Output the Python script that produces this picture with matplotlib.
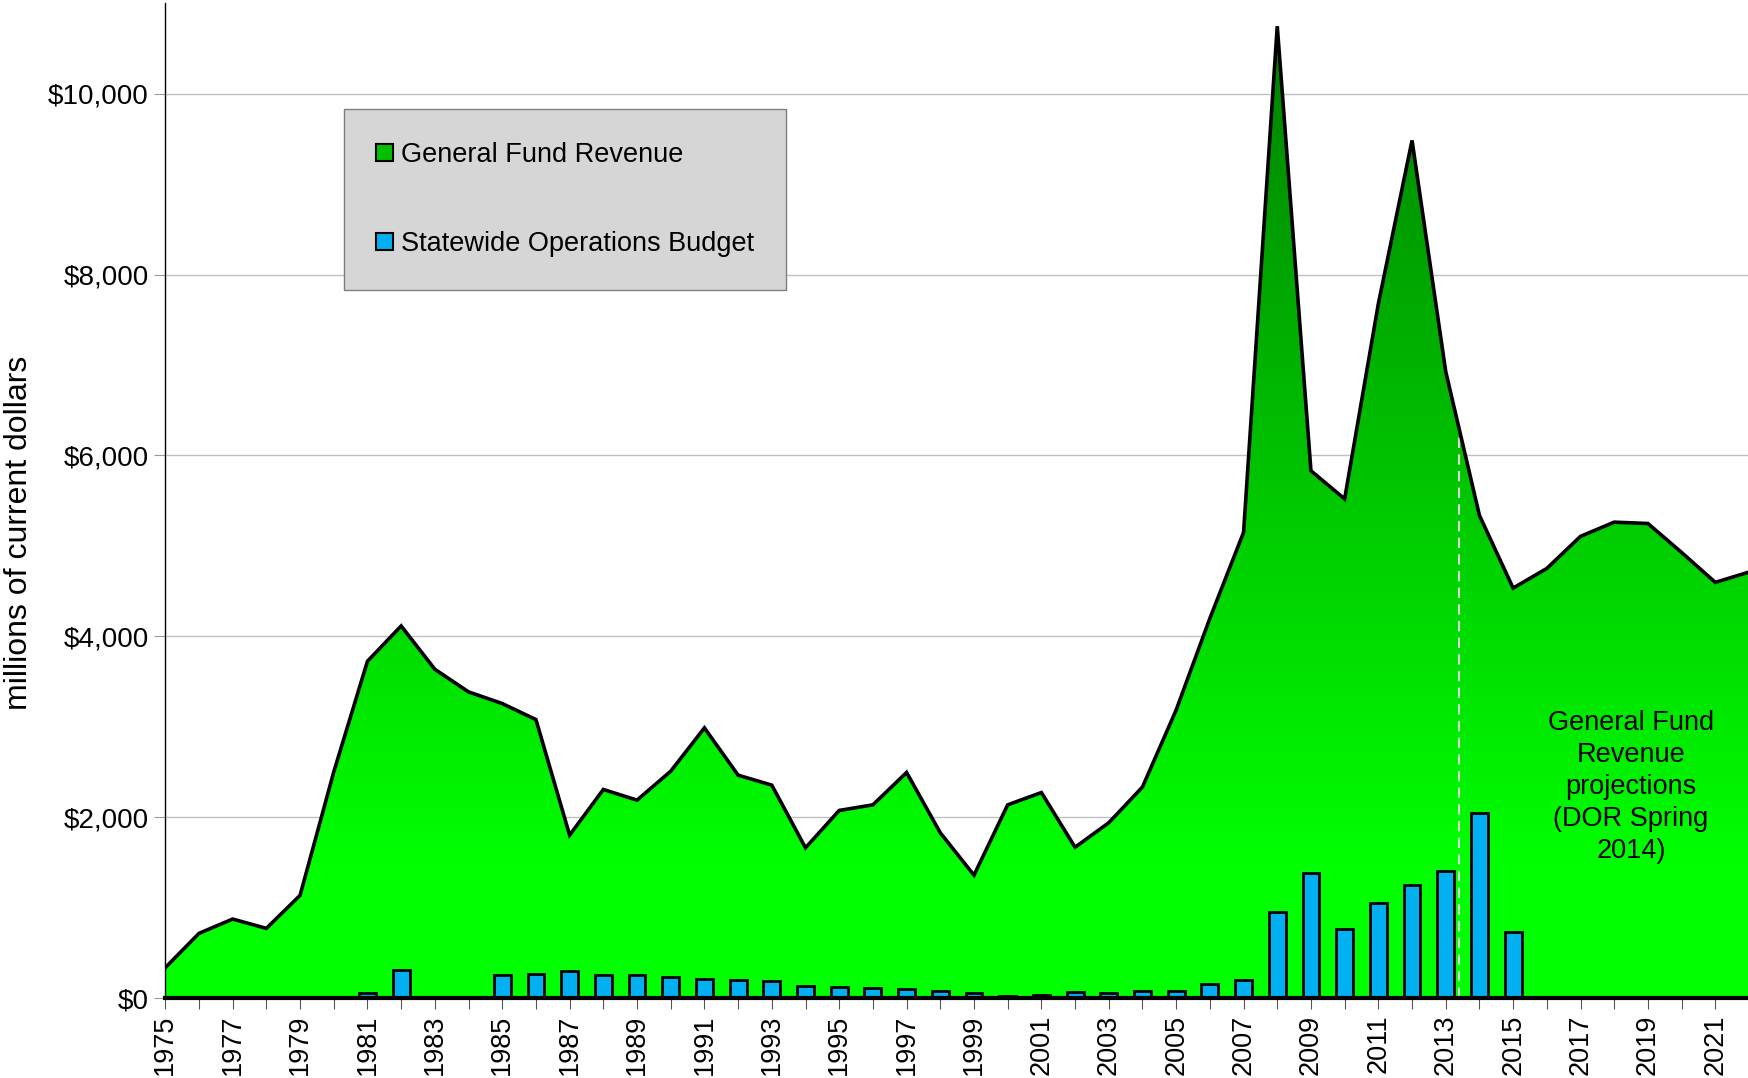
import numpy as np
import matplotlib.pyplot as plt
import matplotlib.patches as mpatches
from matplotlib.ticker import FuncFormatter

plt.rcParams['font.family'] = ['Liberation Sans', 'DejaVu Sans']

years = list(range(1975, 2023))
revenue = [335, 715, 873, 770, 1135, 2500, 3724, 4114, 3635, 3385,
           3256, 3079, 1801, 2306, 2188, 2508, 2987, 2464, 2354, 1661,
           2074, 2136, 2494, 1827, 1358, 2136, 2272, 1667, 1938, 2333,
           3185, 4198, 5148, 10746, 5830, 5519, 7677, 9483, 6927, 5337,
           4533, 4750, 5105, 5262, 5247, 4927, 4596, 4710]

budget_years = [1981, 1982, 1985, 1986, 1987, 1988, 1989, 1990, 1991, 1992,
                1993, 1994, 1995, 1996, 1997, 1998, 1999, 2000, 2001, 2002,
                2003, 2004, 2005, 2006, 2007, 2008, 2009, 2010, 2011, 2012,
                2013, 2014, 2015]
budget = [56, 308, 258, 262, 294, 249, 249, 230, 215, 204,
          193, 137, 126, 111, 97, 75, 50, 22, 36, 65,
          57, 75, 75, 158, 194, 951, 1383, 765, 1049, 1252,
          1402, 2042, 733]

projection_start = 2013.4
note = "General Fund\nRevenue\nprojections\n(DOR Spring\n2014)"

fig = plt.figure(figsize=(17.49, 10.78), dpi=100)
ax = fig.add_axes([0.0945, 0.0742, 0.9055, 0.9228])
xmin, xmax, ymax = 1975, 2022, 11000

# vertical gradient fill, bright green at bottom to dark green at top
yy = np.linspace(0, ymax, 400)
t = np.clip((yy - 1500) / 9250, 0, 1)
g = 1.0 - t * (127 / 255)
rgb = np.zeros((len(yy), 2, 3))
rgb[:, :, 1] = g[:, None]
im = ax.imshow(rgb, extent=[xmin, xmax, 0, ymax], origin='lower',
               aspect='auto', zorder=1)
poly = ax.fill_between(years, revenue, 0, color='none', lw=0)
im.set_clip_path(poly.get_paths()[0], transform=ax.transData)
ax.plot(years, revenue, color='black', lw=2.6, zorder=4, solid_joinstyle='miter')

ax.bar(budget_years, budget, width=0.5, color='#00B0F0', edgecolor='black',
       lw=2, zorder=3)

# projection marker
yv = np.interp(projection_start, years, revenue)
ax.plot([projection_start, projection_start], [0, yv], color='#D8D8D8',
        lw=1.5, ls=(0, (5, 3)), zorder=3.5)

ax.text(2018.5, 2330, note, ha='center', va='center', fontsize=19.5,
        linespacing=1.3, zorder=5)

ax.set_xlim(xmin, xmax)
ax.set_ylim(0, ymax)
ax.set_xticks(range(1975, 2023))
ax.set_xticklabels([str(y) if y % 2 == 1 else '' for y in range(1975, 2023)])
ax.set_yticks(range(0, 10001, 2000))
ax.yaxis.set_major_formatter(FuncFormatter(lambda v, p: f"${int(v):,}"))
ax.tick_params(axis='x', direction='out', length=8, color='#555555',
               labelsize=19.5, labelrotation=90, pad=4)
ax.tick_params(axis='y', direction='out', length=8, color='#999999',
               labelsize=20, pad=4)
ax.grid(True, axis='y', color='#C0C0C0', lw=1)
ax.set_axisbelow(True)
for s in ['top', 'right']:
    ax.spines[s].set_visible(False)
ax.spines['bottom'].set_linewidth(3)
ax.spines['bottom'].set_zorder(6)
ax.spines['left'].set_linewidth(1)

fig.text(0.011, 0.5056, 'millions of current dollars', rotation=90,
         ha='center', va='center', fontsize=23)

handles = [mpatches.Patch(facecolor='#00C000', edgecolor='black', lw=1.5,
                          label='General Fund Revenue'),
           mpatches.Patch(facecolor='#00B0F0', edgecolor='black', lw=1.5,
                          label='Statewide Operations Budget')]
leg = ax.legend(handles=handles, loc='upper left',
                bbox_to_anchor=(0.1127, 0.8935), fontsize=19.5,
                handlelength=0.6, handleheight=0.6, handletextpad=0.3,
                labelspacing=2.35, borderpad=1.2, borderaxespad=0,
                fancybox=False, framealpha=1)
leg.get_frame().set_facecolor('#D6D6D6')
leg.get_frame().set_edgecolor('#7F7F7F')
leg.set_zorder(7)

plt.savefig('out.png', dpi=100)
